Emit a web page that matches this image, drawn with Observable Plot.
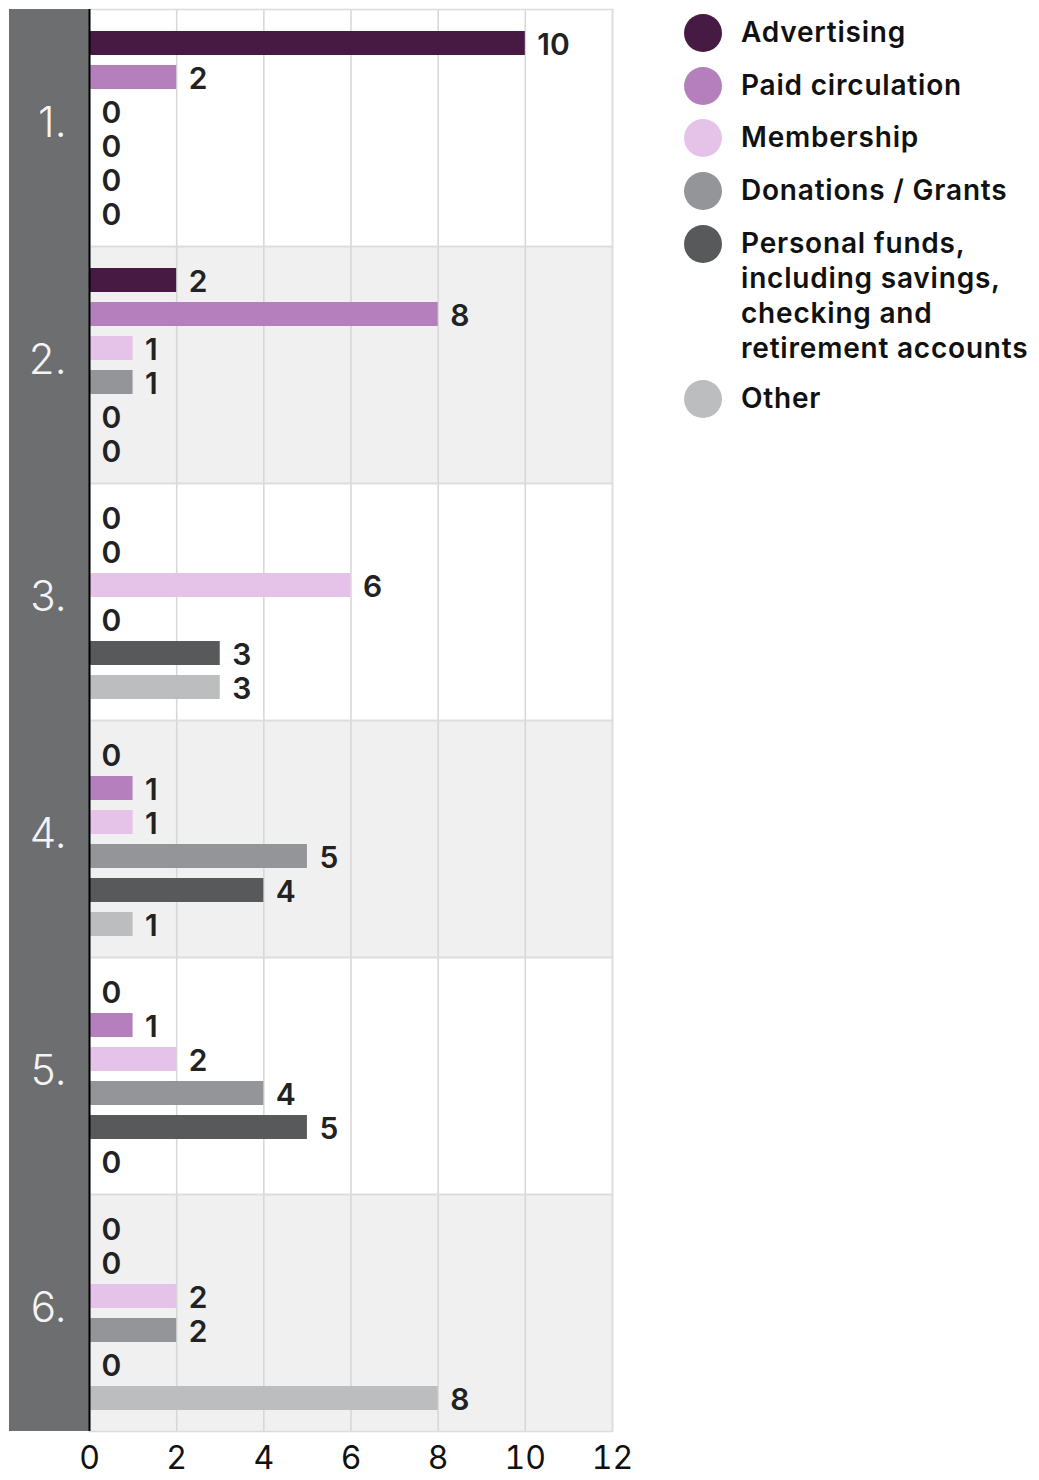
<!DOCTYPE html>
<html>
<head>
<meta charset="utf-8">
<script src="https://cdn.jsdelivr.net/npm/d3@7"></script>
<script src="https://cdn.jsdelivr.net/npm/@observablehq/plot@0.6"></script>
<style>
  html, body { margin: 0; padding: 0; background: #fff; }
  body { width: 1039px; height: 1480px; position: relative; font-family: Inter, "Open Sans", sans-serif; }
  #chart { position: absolute; left: 0; top: 0; }
  #legend { position: absolute; left: 684px; top: 14px; }
  .item { display: flex; align-items: flex-start; margin-bottom: 14.7px; }
  .sw { width: 38px; height: 38px; border-radius: 50%; flex: none; margin-right: 19px; }
  .lab { font-size: 28px; font-weight: 600; color: #111; line-height: 35px; padding-top: 1px; letter-spacing: 0.8px; white-space: nowrap; }
</style>
</head>
<body>
<div id="chart"></div>
<div id="legend"></div>
<script>
const groups = ["1.", "2.", "3.", "4.", "5.", "6."];
const categories = ["Advertising", "Paid circulation", "Membership", "Donations / Grants", "Personal funds, including savings, checking and retirement accounts", "Other"];
const legendLabels = ["Advertising", "Paid circulation", "Membership", "Donations / Grants", "Personal funds,<br>including savings,<br>checking and<br>retirement accounts", "Other"];
const colors = ["#461a42", "#b57fbd", "#e5c3e8", "#949598", "#58595b", "#bcbdbf"];
const values = {
  "1.": [10, 2, 0, 0, 0, 0],
  "2.": [2, 8, 1, 1, 0, 0],
  "3.": [0, 0, 6, 0, 3, 3],
  "4.": [0, 1, 1, 5, 4, 1],
  "5.": [0, 1, 2, 4, 5, 0],
  "6.": [0, 0, 2, 2, 0, 8]
};
const xTicks = [0, 2, 4, 6, 8, 10, 12];

const data = groups.flatMap(g => categories.map((c, i) => ({group: g, category: c, value: values[g][i]})));
const rows = groups.map((g, i) => ({group: g, alt: i % 2 === 1}));
const xMax = d3.max(xTicks);

const chart = Plot.plot({
  width: 640,
  height: 1480,
  marginLeft: 89,
  marginRight: 28,
  marginTop: 7,
  marginBottom: 47,
  style: {fontFamily: "Inter, 'Open Sans', sans-serif", background: "transparent", overflow: "visible"},
  x: {domain: [0, xMax], ticks: xTicks},
  y: {domain: categories, paddingInner: 0.3, paddingOuter: 0.6, axis: null},
  fy: {domain: groups, padding: 0, axis: null},
  color: {domain: categories, range: colors},
  marks: [
    Plot.barX(rows, {fy: "group", x1: 0, x2: xMax, fill: d => d.alt ? "#f0f0f0" : "#ffffff"}),
    Plot.ruleX(xTicks, {stroke: "#d6d6d6", strokeWidth: 1.5}),
    Plot.frame({stroke: "#dcdcdc", strokeWidth: 1.5}),
    Plot.barX(rows, {fy: "group", x1: 0, x2: 0, insetLeft: -80, fill: "#6d6e70"}),
    Plot.text(rows, {fy: "group", text: "group", frameAnchor: "left", dx: -23, dy: -4, textAnchor: "end", fill: "#f4f4f4", fontSize: 42, fontWeight: 300}),
    Plot.barX(data, {x: "value", y: "category", fy: "group", fill: "category"}),
    Plot.text(data, {x: "value", y: "category", fy: "group", text: d => String(d.value), textAnchor: "start", dx: 12, dy: 2, fontSize: 30, fontWeight: 600, fill: "#222", letterSpacing: 1}),
    Plot.ruleX([0], {stroke: "#000", strokeWidth: 2}),
    Plot.axisX(xTicks, {anchor: "bottom", tickSize: 0, tickPadding: 15, fontSize: 32, fill: "#111", label: null})
  ]
});
document.getElementById("chart").appendChild(chart);

const legend = document.getElementById("legend");
legendLabels.forEach((l, i) => {
  const it = document.createElement("div");
  it.className = "item";
  it.innerHTML = `<div class="sw" style="background:${colors[i]}"></div><div class="lab">${l}</div>`;
  legend.appendChild(it);
});
</script>
</body>
</html>
